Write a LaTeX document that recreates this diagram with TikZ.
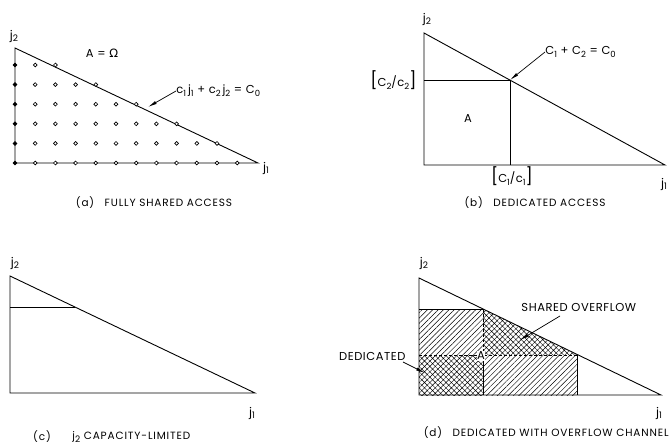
\documentclass[tikz,border=0pt]{standalone}
\usepackage{fontspec}
\setmainfont{Poppins}[LetterSpace=5]
\newfontfamily\capfont{Poppins}[LetterSpace=8]
\newfontfamily\grk{DejaVu Sans}
\usetikzlibrary{arrows.meta,patterns.meta}
\newcommand{\sub}[1]{\raisebox{-0.5ex}{\fontsize{8.5}{8.5}\selectfont #1}}
\newcommand{\jsub}[1]{\raisebox{-0.45ex}{\fontsize{9}{9}\selectfont #1}}
\newcommand{\bigbr}[1]{{\fontsize{17}{17}\selectfont #1}}
\begin{document}
\begin{tikzpicture}[x=1pt,y=-1pt,line width=0.9pt,
  font=\fontsize{11.5}{12}\selectfont,
  lbl/.style={inner sep=0pt},
  jlbl/.style={inner sep=0pt,font=\fontsize{12}{12}\selectfont},
  captxt/.style={inner sep=0pt,font=\capfont\fontsize{10.5}{11}\selectfont},
  arr/.style={-{Latex[length=9pt,width=3.2pt]},line width=0.7pt},
  dotopen/.style={circle,draw,fill=white,inner sep=0pt,minimum size=3.8pt,line width=0.7pt},
  dotfull/.style={circle,draw,fill=black,inner sep=0pt,minimum size=3.8pt,line width=0.7pt},
  single/.style={pattern={Lines[angle=45,distance=3.8pt,line width=0.45pt]}},
  cross/.style={pattern={Hatch[angle=45,distance=3.8pt,line width=0.45pt]}}]
\useasboundingbox (0,0) rectangle (670,447);

% ---------- (a) ----------
\coordinate (a0) at (15,163);
\coordinate (a2) at (15,48);
\coordinate (a1) at (258,163);
\draw (a2) -- (a0) -- (a1) -- cycle;
\foreach \r/\n in {0/12,1/11,2/9,3/7,4/5,5/3}{
  \pgfmathtruncatemacro{\m}{\n-1}
  \foreach \i in {0,...,\m}{
    \ifnum\i=0
      \node[dotfull] (ad\r-\i) at ({15+20.2*\i},{163-19.6*\r}) {};
    \else
      \node[dotopen] (ad\r-\i) at ({15+20.2*\i},{163-19.6*\r}) {};
    \fi
  }
}
\node[jlbl] (aj2) at (14,36) {j\jsub{2}};
\node[jlbl] (aj1) at (266,168) {j\jsub{1}};
\node[lbl] (aA) at (102,53) {A = {\grk Ω}};
\node[lbl,anchor=west] (aeq) at (176,91) {c\sub{1}\,j\sub{1} + c\sub{2}\,j\sub{2} = C\sub{0}};
\coordinate (aeqtip) at (148,107);
\draw[arr] (aeq.west) -- (aeqtip);
\node[captxt] (acap) at (154,203) {(a)\quad FULLY SHARED ACCESS};

% ---------- (b) ----------
\coordinate (b0) at (424,165);
\coordinate (b2) at (424,33);
\coordinate (b1) at (665,165);
\coordinate (bc) at (510,80);
\draw (b2) -- (b0) -- (b1) -- cycle;
\draw (424,80) -- (bc) -- (510,165);
\node[jlbl] (bj2) at (427,19) {j\jsub{2}};
\node[jlbl] (bj1) at (664,184) {j\jsub{1}};
\node[lbl,anchor=east] (bc2) at (417,80) {\bigbr{[}C\sub{2}/c\sub{2}\bigbr{]}};
\node[lbl,anchor=north] (bc1) at (512,166) {\bigbr{[}C\sub{1}/c\sub{1}\bigbr{]}};
\node[lbl] (bA) at (468,119) {A};
\node[lbl,anchor=west] (beq) at (545,52) {C\sub{1} + C\sub{2} = C\sub{0}};
\draw[arr] (beq.west) -- (bc);
\node[captxt] (bcap) at (535,203) {(b)\quad DEDICATED ACCESS};

% ---------- (c) ----------
\coordinate (c0) at (10,393);
\coordinate (c2) at (10,276);
\coordinate (c1) at (255,393);
\draw (c2) -- (c0) -- (c1) -- cycle;
\draw (10,307) -- (75,307);
\node[jlbl] (cj2) at (15,263) {j\jsub{2}};
\node[jlbl] (cj1) at (252,413) {j\jsub{1}};
\node[captxt] (ccap1) at (42,437) {(c)};
\node[captxt,anchor=west] (ccap2) at (72,437) {j\jsub{2} CAPACITY-LIMITED};

% ---------- (d) ----------
\coordinate (d0) at (419,395);
\coordinate (d2) at (419,278);
\coordinate (d1) at (661,395);
\coordinate (dp1) at (483,309);
\coordinate (dp2) at (577,355);
\fill[single] (419,309) rectangle (483,355);
\fill[single] (483,355) rectangle (577,395);
\fill[cross] (419,355) rectangle (483,395);
\fill[cross] (dp1) -- (dp2) -- (483,355) -- cycle;
\draw (d2) -- (d0) -- (d1) -- cycle;
\draw (419,309) -- (dp1);
\draw (dp2) -- (577,395);
\draw (483,355) -- (483,395);
\draw[dash pattern=on 3pt off 2pt] (419,355) -- (dp2);
\draw[dash pattern=on 3pt off 2pt] (dp1) -- (483,355);
\node[lbl,fill=white,inner sep=0.6pt] (dA) at (481,356) {A};
\node[jlbl] (dj2) at (424,263) {j\jsub{2}};
\node[jlbl] (dj1) at (659,413) {j\jsub{1}};
\node[lbl,anchor=west] (dso) at (521,307) {SHARED OVERFLOW};
\coordinate (dsotip) at (520,340);
\draw[arr] (560,316) -- (dsotip);
\node[lbl,anchor=east] (dded) at (406,356) {DEDICATED};
\coordinate (ddedtip) at (425,373);
\draw[arr] (403,362) -- (ddedtip);
\node[captxt,anchor=east] (dcap) at (669,433) {(d)\quad DEDICATED WITH OVERFLOW CHANNEL};
\end{tikzpicture}
\end{document}
